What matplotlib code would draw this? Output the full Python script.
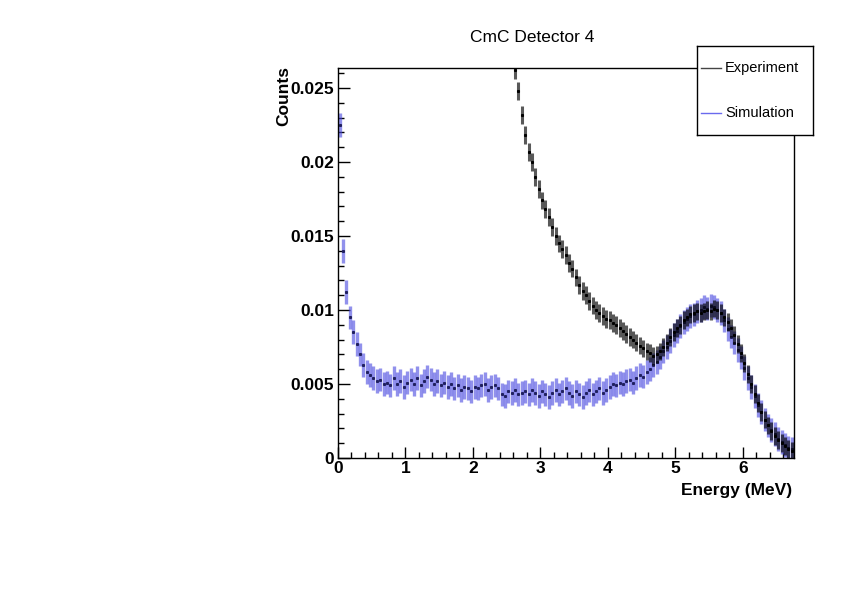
import numpy as np
import matplotlib
matplotlib.use("Agg")
from matplotlib import pyplot as plt
from matplotlib.ticker import MultipleLocator, FuncFormatter

plt.rcParams['font.family'] = ['Liberation Sans', 'DejaVu Sans']

# histogram binning (MeV)
bin_width = 0.05
sim_start = 0.0
exp_start = 2.55

# Simulation, counts per bin (0.00 - 6.75 MeV)
sim_counts = [
    0.0225, 0.0140, 0.0112, 0.0095, 0.0085, 0.0077, 0.0070, 0.0063, 0.0058, 0.0056,
    0.0054, 0.0052, 0.0053, 0.0050, 0.0051, 0.0049, 0.0054, 0.0050, 0.0052, 0.0048,
    0.0051, 0.0053, 0.0050, 0.0054, 0.0049, 0.0052, 0.0055, 0.0053, 0.0050, 0.0052,
    0.0049, 0.0051, 0.0048, 0.0050, 0.0047, 0.0049, 0.0046, 0.0048, 0.0047, 0.0045,
    0.0048, 0.0047, 0.0049, 0.0050, 0.0046, 0.0048, 0.0049, 0.0047, 0.0043, 0.0042,
    0.0045, 0.0044, 0.0046, 0.0043, 0.0044, 0.0045, 0.0043, 0.0046, 0.0044, 0.0042,
    0.0045, 0.0043, 0.0041, 0.0044, 0.0046, 0.0043, 0.0045, 0.0047, 0.0044, 0.0042,
    0.0045, 0.0043, 0.0041, 0.0044, 0.0046, 0.0043, 0.0045, 0.0047, 0.0044, 0.0046,
    0.0048, 0.0050, 0.0049, 0.0051, 0.0050, 0.0052, 0.0053, 0.0051, 0.0054, 0.0056,
    0.0055, 0.0058, 0.0060, 0.0063, 0.0065, 0.0068, 0.0072, 0.0075, 0.0079, 0.0083,
    0.0086, 0.0089, 0.0092, 0.0094, 0.0096, 0.0097, 0.0099, 0.0100, 0.0102, 0.0101,
    0.0103, 0.0102, 0.0100, 0.0098, 0.0093, 0.0087, 0.0082, 0.0078, 0.0073, 0.0068,
    0.0061, 0.0054, 0.0048, 0.0042, 0.0036, 0.0031, 0.0026, 0.0022, 0.0019, 0.0016,
    0.0013, 0.0011, 0.0009, 0.0007, 0.0006,
]

# Experiment, counts per bin (2.55 - 6.75 MeV, lower bins are off scale)
exp_counts = [
    0.0285, 0.0262, 0.0248, 0.0232, 0.0218, 0.0207, 0.0200, 0.0190, 0.0182, 0.0174,
    0.0168, 0.0163, 0.0156, 0.0150, 0.0145, 0.0141, 0.0137, 0.0132, 0.0128, 0.0122,
    0.0117, 0.0113, 0.0110, 0.0106, 0.0103, 0.0100, 0.0098, 0.0096, 0.0094, 0.0093,
    0.0091, 0.0090, 0.0088, 0.0086, 0.0084, 0.0082, 0.0080, 0.0078, 0.0076, 0.0074,
    0.0072, 0.0071, 0.0069, 0.0070, 0.0072, 0.0075, 0.0078, 0.0082, 0.0085, 0.0088,
    0.0090, 0.0093, 0.0095, 0.0097, 0.0098, 0.0099, 0.0098, 0.0099, 0.0100, 0.0099,
    0.0101, 0.0100, 0.0098, 0.0095, 0.0092, 0.0088, 0.0083, 0.0077, 0.0071, 0.0064,
    0.0057, 0.0050, 0.0043, 0.0037, 0.0031, 0.0026, 0.0022, 0.0018, 0.0015, 0.0012,
    0.0010, 0.0008, 0.0006, 0.0005,
]

sim_err = 0.0008
exp_err = 0.0006

sim_x = sim_start + bin_width * (np.arange(len(sim_counts)) + 0.5)
exp_x = exp_start + bin_width * (np.arange(len(exp_counts)) + 0.5)

fig = plt.figure(figsize=(8.42, 5.95), dpi=100)
ax = fig.add_axes([338/842, 1-458/595, 456/842, 390/595])

ax.errorbar(sim_x, sim_counts, yerr=sim_err, fmt='none', color='#4848e0',
            elinewidth=2.4, alpha=0.6, capsize=0)
ax.plot(sim_x, sim_counts, ls='none', marker='s', ms=1.2, color='#202060')
ax.errorbar(exp_x, exp_counts, yerr=exp_err, fmt='none', color='black',
            elinewidth=2.2, alpha=0.65, capsize=0)
ax.plot(exp_x, exp_counts, ls='none', marker='s', ms=1.2, color='black')

ax.set_xlim(0, 6.76)
ax.set_ylim(0, 0.02635)

ax.xaxis.set_major_locator(MultipleLocator(1))
ax.xaxis.set_minor_locator(MultipleLocator(0.2))
ax.yaxis.set_major_locator(MultipleLocator(0.005))
ax.yaxis.set_minor_locator(MultipleLocator(0.001))
ax.yaxis.set_major_formatter(FuncFormatter(lambda v, p: '0' if v == 0 else ('%g' % v)))

ax.tick_params(axis='both', which='both', direction='in', top=False, right=False)
ax.tick_params(axis='y', which='major', length=8.6, width=1, pad=3)
ax.tick_params(axis='y', which='minor', length=4.3, width=1)
ax.tick_params(axis='x', which='major', length=8, width=1, pad=2)
ax.tick_params(axis='x', which='minor', length=4, width=1)
for lab in ax.get_xticklabels() + ax.get_yticklabels():
    lab.set_fontweight('bold')
    lab.set_fontsize(12.5)
for s in ax.spines.values():
    s.set_linewidth(1)

fig.text(532/842, 1-37/595, 'CmC Detector 4', ha='center', va='center', fontsize=12.5)
fig.text(284/842, 1-66/595, 'Counts', rotation=90, ha='center', va='top',
         fontsize=12.5, fontweight='bold')
fig.text(792/842, 1-491/595, 'Energy (MeV)', ha='right', va='center',
         fontsize=12.5, fontweight='bold')

# legend box
lax = fig.add_axes([697/842, 1-135/595, 116/842, 89/595])
lax.set_xlim(0, 116)
lax.set_ylim(89, 0)
lax.set_xticks([])
lax.set_yticks([])
for s in lax.spines.values():
    s.set_linewidth(1)
lax.plot([4, 24], [22, 22], color='#444444', lw=1)
lax.plot([4, 24], [67, 67], color='#6a6aee', lw=1)
lax.text(28, 22, 'Experiment', va='center', ha='left', fontsize=10.5)
lax.text(28, 67, 'Simulation', va='center', ha='left', fontsize=10.5)

fig.savefig('out.png', dpi=100)
